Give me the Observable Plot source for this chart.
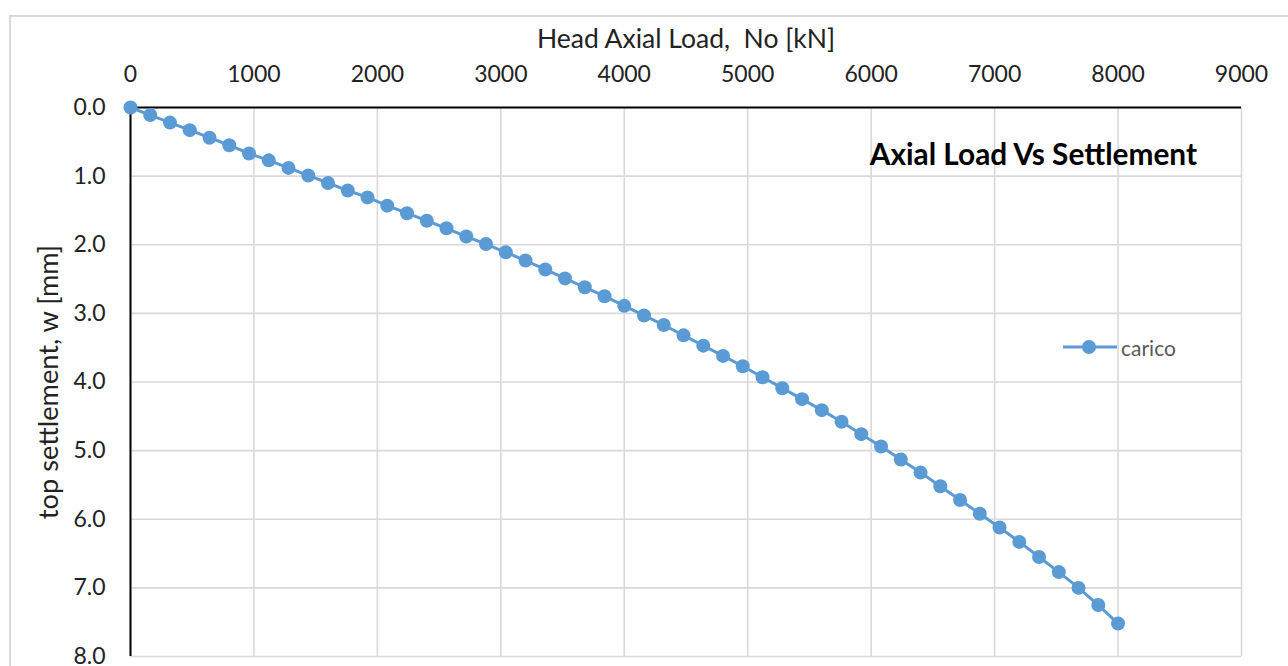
<!DOCTYPE html>
<html>
<head>
<meta charset="utf-8">
<script src="https://cdn.jsdelivr.net/npm/d3@7"></script>
<script src="https://cdn.jsdelivr.net/npm/@observablehq/plot@0.6"></script>
<style>
  html, body { margin: 0; padding: 0; background: #fff; overflow: hidden; }
  #wrap { position: relative; width: 1288px; height: 666px; font-family: Lato, "Open Sans", sans-serif; }
  #frame { position: absolute; left: 9px; top: 15px; width: 1300px; height: 700px; border: 2px solid #d9d9d9; box-sizing: border-box; }
  #title { position: absolute; right: 91px; top: 139px; font-size: 29.8px; line-height: 1; font-weight: bold; color: #000; white-space: nowrap; }
  #legend { position: absolute; left: 1062px; top: 334px; display: flex; align-items: center; font-size: 21px; color: #595959; }
  #legend svg { display: block; }
  #chart { position: absolute; left: 0; top: 0; }
</style>
</head>
<body>
<div id="wrap">
  <div id="frame"></div>
  <div id="chart"></div>
  <div id="title">Axial Load Vs Settlement</div>
  <div id="legend"><svg width="56" height="26"><line x1="1" y1="13" x2="55" y2="13" stroke="#5B9BD5" stroke-width="3"/><circle cx="27" cy="13" r="7" fill="#5B9BD5"/></svg><span style="margin-left:3px">carico</span></div>
</div>
<script>
const seriesName = "carico";
const loads = [0,160,320,480,640,800,960,1120,1280,1440,1600,1760,1920,2080,2240,2400,2560,2720,2880,3040,3200,3360,3520,3680,3840,4000,4160,4320,4480,4640,4800,4960,5120,5280,5440,5600,5760,5920,6080,6240,6400,6560,6720,6880,7040,7200,7360,7520,7680,7840,8000];
const settlements = [0,0.11,0.22,0.33,0.44,0.55,0.67,0.77,0.88,0.99,1.10,1.21,1.31,1.43,1.54,1.65,1.76,1.88,1.99,2.11,2.23,2.36,2.49,2.62,2.75,2.89,3.03,3.17,3.32,3.47,3.62,3.77,3.93,4.09,4.25,4.41,4.58,4.76,4.94,5.13,5.32,5.52,5.72,5.92,6.12,6.33,6.55,6.77,7.00,7.25,7.52];
const xTicks = [0,1000,2000,3000,4000,5000,6000,7000,8000,9000];
const yTicks = [0,1,2,3,4,5,6,7,8];
const xTitle = "Head Axial Load,  No [kN]";
const yTitle = "top settlement, w [mm]";

const data = loads.map((l, i) => ({load: l, w: settlements[i]}));

const chart = Plot.plot({
  width: 1288,
  height: 666,
  marginTop: 107,
  marginLeft: 130,
  marginRight: 47,
  marginBottom: 10,
  style: {fontFamily: "Lato, 'Open Sans', sans-serif", background: "transparent", color: "#222"},
  x: {domain: [0, 9000]},
  y: {domain: [0, 8], reverse: true},
  marks: [
    Plot.gridX(xTicks, {stroke: "#d9d9d9", strokeOpacity: 1, strokeWidth: 1.6}),
    Plot.gridY(yTicks, {stroke: "#d9d9d9", strokeOpacity: 1, strokeWidth: 1.6}),
    Plot.axisX(xTicks, {anchor: "top", tickSize: 0, tickPadding: 26, fontSize: 23, fill: "#222", tickFormat: d3.format("d"),
      label: xTitle, labelAnchor: "center", labelArrow: "none", labelOffset: 78}),
    Plot.axisY(yTicks, {anchor: "left", tickSize: 0, tickPadding: 25, fontSize: 23, fill: "#222", tickFormat: d3.format(".1f"),
      label: yTitle, labelAnchor: "center", labelArrow: "none", labelOffset: 92}),
    Plot.ruleX([0], {stroke: "#000", strokeWidth: 2}),
    Plot.ruleY([0], {stroke: "#000", strokeWidth: 2}),
    Plot.line(data, {x: "load", y: "w", stroke: "#5B9BD5", strokeWidth: 3}),
    Plot.dot(data, {x: "load", y: "w", r: 7, fill: "#5B9BD5", stroke: "none"})
  ]
});
chart.querySelectorAll("[aria-label='x-axis label'] text").forEach(t => t.setAttribute("font-size", 26.5));
chart.querySelectorAll("[aria-label='y-axis label'] text").forEach(t => t.setAttribute("font-size", 27.2));
document.getElementById("chart").appendChild(chart);
</script>
</body>
</html>
